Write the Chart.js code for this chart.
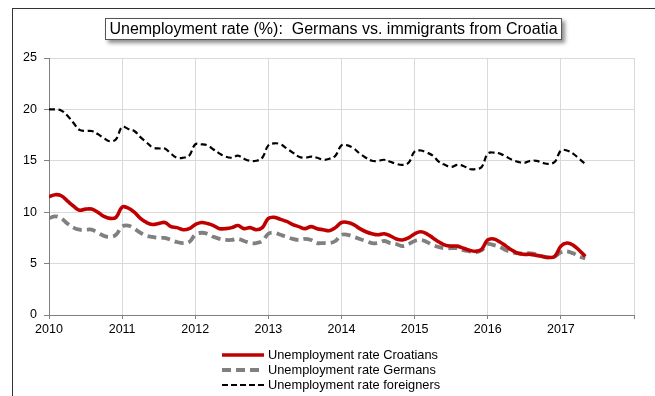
<!DOCTYPE html>
<html>
<head>
<meta charset="utf-8">
<script src="https://cdn.jsdelivr.net/npm/chart.js@4/dist/chart.umd.min.js"></script>
<style>
  html, body { margin: 0; padding: 0; background: #fff; overflow: hidden; }
  #wrap { position: relative; width: 655px; height: 396px; }
  #frame {
    position: absolute; left: 12px; top: 8px; width: 700px; height: 500px;
    border: 1.5px solid #333; box-sizing: border-box;
  }
  #chart { position: absolute; left: 0; top: 0; }
  #title {
    position: absolute; left: 105px; top: 18px; width: 457px; height: 22px;
    border: 1px solid #555; background: #fff; box-sizing: border-box;
    box-shadow: 3px 3px 4px rgba(0,0,0,0.45);
    font: 16px "Liberation Sans", Arial, sans-serif; color: #000;
    text-align: center; line-height: 20px; white-space: pre;
  }
</style>
</head>
<body>
<div id="wrap">
  <div id="frame"></div>
  <canvas id="chart" width="655" height="396"></canvas>
  <div id="title">Unemployment rate (%):  Germans vs. immigrants from Croatia</div>
</div>
<script>
  // monthly series, Jan 2010 - May 2017
  const startYear = 2010;
  const yearTicks = [2010, 2011, 2012, 2013, 2014, 2015, 2016, 2017];

  const croatians = [
    11.5, 11.7, 11.6, 11.1, 10.6, 10.2, 10.3, 10.3, 10.0, 9.6, 9.4, 9.5,
    10.5, 10.4, 10.0, 9.4, 9.0, 8.8, 8.9, 9.0, 8.6, 8.5, 8.3, 8.4,
    8.8, 9.0, 8.9, 8.7, 8.4, 8.4, 8.5, 8.7, 8.4, 8.5, 8.3, 8.5,
    9.4, 9.5, 9.3, 9.1, 8.8, 8.6, 8.4, 8.6, 8.4, 8.3, 8.2, 8.5,
    9.0, 9.0, 8.8, 8.4, 8.1, 7.9, 7.8, 7.9, 7.7, 7.4, 7.3, 7.5,
    7.9, 8.1, 7.9, 7.5, 7.1, 6.8, 6.7, 6.7, 6.5, 6.3, 6.2, 6.4,
    7.3, 7.4, 7.1, 6.7, 6.3, 6.0, 5.9, 5.9, 5.8, 5.7, 5.6, 5.7,
    6.7, 7.0, 6.8, 6.3, 5.7
  ];
  const germans = [
    9.4, 9.6, 9.4, 8.9, 8.5, 8.3, 8.3, 8.3, 8.0, 7.7, 7.6, 7.8,
    8.6, 8.7, 8.4, 8.0, 7.7, 7.6, 7.5, 7.5, 7.3, 7.1, 7.0, 7.1,
    7.8, 8.0, 7.9, 7.6, 7.4, 7.3, 7.3, 7.4, 7.2, 7.0, 7.0, 7.2,
    7.9, 8.0, 7.8, 7.6, 7.4, 7.3, 7.4, 7.3, 7.0, 7.0, 7.0, 7.2,
    7.8, 7.8, 7.6, 7.4, 7.2, 7.0, 7.0, 7.2, 7.0, 6.9, 6.7, 6.9,
    7.2, 7.3, 7.1, 6.8, 6.6, 6.5, 6.5, 6.5, 6.3, 6.2, 6.1, 6.3,
    6.9, 6.8, 6.6, 6.3, 6.1, 6.0, 6.0, 6.0, 5.9, 5.7, 5.6, 5.7,
    6.1, 6.2, 6.0, 5.7, 5.5
  ];
  const foreigners = [
    20.0, 20.0, 19.9, 19.4, 18.7, 18.0, 17.9, 17.9, 17.6, 17.2, 16.9, 17.1,
    18.3, 18.1, 17.9, 17.3, 16.8, 16.3, 16.2, 16.2, 15.7, 15.3, 15.3, 15.5,
    16.6, 16.6, 16.5, 16.1, 15.7, 15.4, 15.3, 15.5, 15.2, 15.0, 15.0, 15.3,
    16.5, 16.7, 16.6, 16.2, 15.8, 15.4, 15.3, 15.4, 15.3, 15.1, 15.2, 15.5,
    16.5, 16.5, 16.2, 15.7, 15.3, 15.0, 15.0, 15.1, 14.9, 14.7, 14.6, 14.8,
    15.9, 16.0, 15.8, 15.5, 14.9, 14.6, 14.4, 14.6, 14.5, 14.2, 14.2, 14.4,
    15.7, 15.8, 15.7, 15.4, 15.1, 14.9, 14.8, 15.0, 15.0, 14.8, 14.7, 14.9,
    16.0, 16.0, 15.7, 15.2, 14.7
  ];

  // month i -> fractional year on the x axis
  const toPoints = arr => arr.map((v, i) => ({ x: startYear + i / 12, y: v }));

  const FONT = '"Liberation Sans", Arial, sans-serif';

  // legend drawn by hand so the dashed samples look right
  const lineLegend = {
    id: 'lineLegend',
    afterDraw(chart) {
      const c = chart.ctx;
      c.save();
      c.font = '12.8px ' + FONT;
      c.textBaseline = 'middle';
      c.fillStyle = '#000';
      chart.data.datasets.forEach((ds, i) => {
        const y = 355 + i * 15;
        c.beginPath();
        c.strokeStyle = ds.borderColor;
        c.lineWidth = ds.borderWidth;
        c.setLineDash(ds.legendDash || []);
        c.moveTo(222, y);
        c.lineTo(264, y);
        c.stroke();
        c.setLineDash([]);
        c.fillText(ds.label, 268, y);
      });
      c.restore();
    }
  };

  new Chart(document.getElementById('chart'), {
    type: 'line',
    data: {
      datasets: [
        {
          label: 'Unemployment rate Croatians',
          data: toPoints(croatians),
          borderColor: '#c00000',
          borderWidth: 3.6,
          tension: 0.4,
          pointRadius: 0
        },
        {
          label: 'Unemployment rate Germans',
          data: toPoints(germans),
          borderColor: '#808080',
          borderWidth: 3.8,
          borderDash: [9, 5],
          legendDash: [9, 5],
          tension: 0.4,
          pointRadius: 0
        },
        {
          label: 'Unemployment rate foreigners',
          data: toPoints(foreigners),
          borderColor: '#000000',
          borderWidth: 2.2,
          borderDash: [6, 3.5],
          legendDash: [6, 3],
          tension: 0.4,
          pointRadius: 0
        }
      ]
    },
    options: {
      responsive: false,
      animation: false,
      layout: { padding: { top: 58, right: 21, bottom: 56, left: 0 } },
      plugins: { legend: { display: false }, tooltip: { enabled: false } },
      scales: {
        x: {
          type: 'linear',
          min: 2010,
          max: 2018,
          afterFit: s => { s.height = 25; },
          afterBuildTicks: s => {
            s.ticks = yearTicks.concat([2018]).map(v => ({ value: v }));
          },
          ticks: {
            color: '#000',
            font: { family: FONT, size: 12.5 },
            padding: 3,
            maxRotation: 0,
            callback: v => (yearTicks.includes(v) ? String(v) : '')
          },
          grid: { color: '#d9d9d9', tickLength: 4, tickColor: '#808080' },
          border: { color: '#808080', width: 1 }
        },
        y: {
          min: 0,
          max: 25,
          afterFit: s => { s.width = 49; },
          ticks: {
            stepSize: 5,
            color: '#000',
            font: { family: FONT, size: 12.5 },
            padding: 7
          },
          grid: { color: '#d9d9d9', tickLength: 5, tickColor: '#808080' },
          border: { color: '#808080', width: 1 }
        }
      }
    },
    plugins: [lineLegend]
  });
</script>
</body>
</html>
